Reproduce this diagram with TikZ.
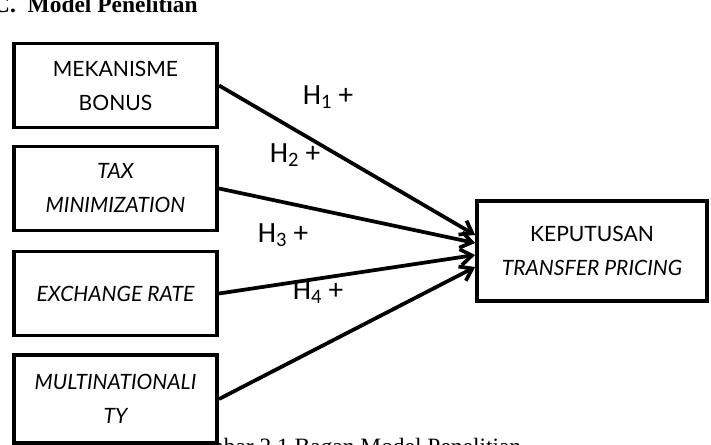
\documentclass[tikz,border=0pt]{standalone}
\usepackage{fontspec}
\setmainfont{Liberation Serif}
\newfontfamily\boxfont{Lato}
\newfontfamily\hfont{Carlito}
\usetikzlibrary{arrows.meta,calc}
\begin{document}
\begin{tikzpicture}[x=0.03cm,y=-0.03cm,
  box/.style={draw=black,fill=white,line width=3.2pt,rectangle,
    minimum width=6.1cm,minimum height=2.52cm,inner sep=0pt,align=center,
    font=\boxfont\fontsize{18}{29}\selectfont},
  arr/.style={line width=3.2pt,-{Straight Barb[length=0.34cm,width=0.48cm,line width=3.2pt]}},
  hlab/.style={font=\hfont\fontsize{25}{28}\selectfont,inner sep=0pt},
  ttl/.style={font=\bfseries\fontsize{20}{24}\selectfont,inner sep=0pt,anchor=base west},
  captxt/.style={font=\fontsize{20}{24}\selectfont,inner sep=0pt,anchor=base west}]
\useasboundingbox (0,0) rectangle (711,444);
\clip (0,0) rectangle (711,444);
\fill[white] (0,0) rectangle (711,444);
\node[ttl] (title) at (-7,12) {C.\ \ Model Penelitian};
\node[captxt] (caption) at (178,454) {Gambar 2.1 Bagan Model Penelitian};
\node[box] (b1) at (115.5,85.5) {MEKANISME\\BONUS};
\node[box] (b2) at (115.5,188.5) {\itshape TAX\\\itshape MINIMIZATION};
\node[box] (b3) at (115.5,293.5) {\itshape EXCHANGE RATE};
\node[box,minimum height=2.64cm] (b4) at (115.5,399) {\itshape MULTINATIONALI\\\itshape TY};
\node[box,minimum width=6.9cm,minimum height=3.0cm] (kp) at (592,251) {KEPUTUSAN\\\itshape TRANSFER PRICING};
\coordinate (e1) at ($(kp.west)+(0,-16)$);
\coordinate (e2) at ($(kp.west)+(0,-8)$);
\coordinate (e3) at ($(kp.west)+(0,4)$);
\coordinate (e4) at ($(kp.west)+(0,16)$);
\draw[arr] (b1.east) -- (e1);
\draw[arr] (b2.east) -- (e2);
\draw[arr] (b3.east) -- (e3);
\draw[arr] (b4.east) -- (e4);
\node[hlab] (h1) at (328,97) {H\textsubscript{1} +};
\node[hlab] (h2) at (295,155) {H\textsubscript{2} +};
\node[hlab] (h3) at (283,235) {H\textsubscript{3} +};
\node[hlab] (h4) at (318,292) {H\textsubscript{4} +};
\end{tikzpicture}
\end{document}
